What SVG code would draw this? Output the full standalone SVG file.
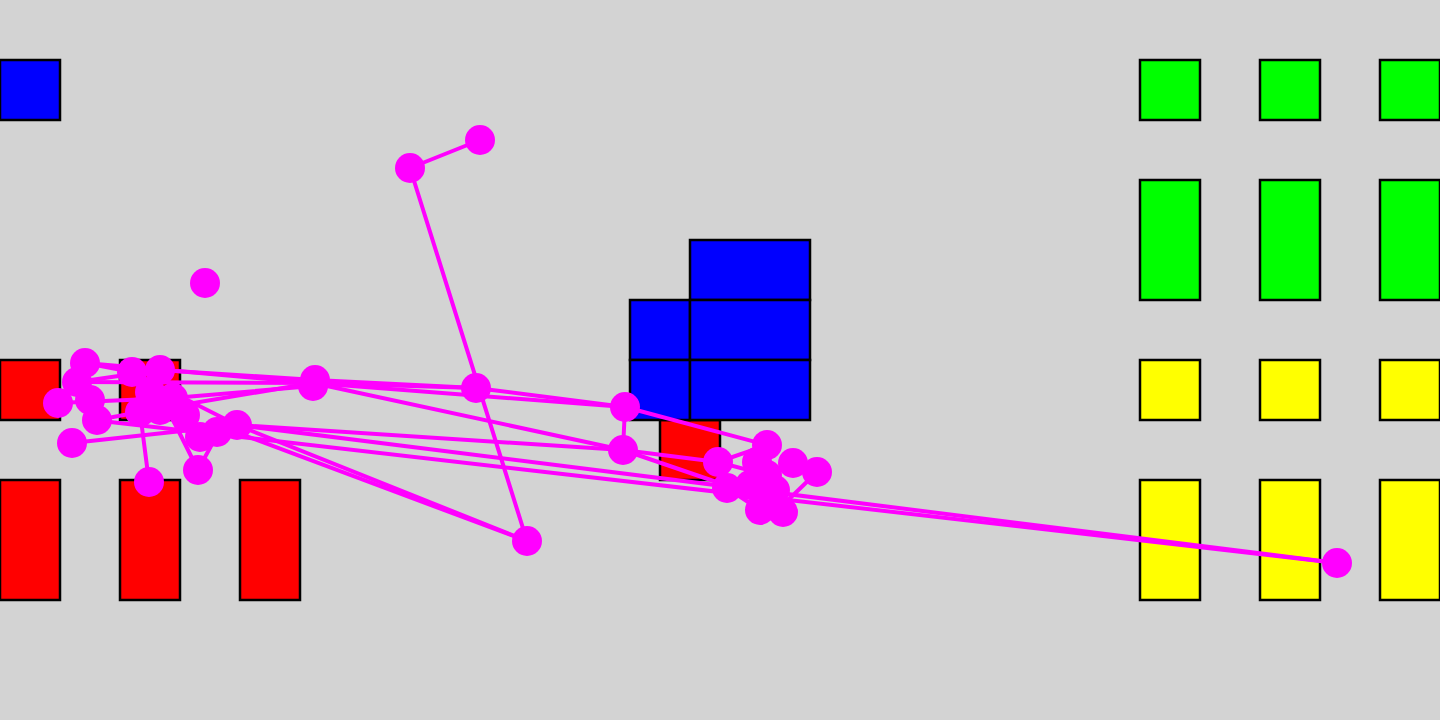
<svg xmlns="http://www.w3.org/2000/svg" width="1440" height="720" viewBox="0 0 1440 720">
<style>
.b{fill:#0000ff;stroke:#000;stroke-width:2.5}
.r{fill:#ff0000;stroke:#000;stroke-width:2.5}
.g{fill:#00ff00;stroke:#000;stroke-width:2.5}
.y{fill:#ffff00;stroke:#000;stroke-width:2.5}
.e line{stroke:#ff00ff;stroke-width:4;stroke-linecap:round}
.n circle{fill:#ff00ff}
</style>
<rect x="0" y="0" width="1440" height="720" fill="#d3d3d3"/>
<g id="blocks">
<rect class="b" x="0" y="60" width="60" height="60"/>
<rect class="r" x="0" y="360" width="60" height="60"/>
<rect class="r" x="120" y="360" width="60" height="60"/>
<rect class="r" x="0" y="480" width="60" height="120"/>
<rect class="r" x="120" y="480" width="60" height="120"/>
<rect class="r" x="240" y="480" width="60" height="120"/>
<rect class="r" x="660" y="420" width="60" height="60"/>
<rect class="b" x="690" y="240" width="120" height="60"/>
<rect class="b" x="630" y="300" width="60" height="60"/>
<rect class="b" x="690" y="300" width="120" height="60"/>
<rect class="b" x="630" y="360" width="60" height="60"/>
<rect class="b" x="690" y="360" width="120" height="60"/>
<rect class="g" x="1140" y="60" width="60" height="60"/>
<rect class="g" x="1260" y="60" width="60" height="60"/>
<rect class="g" x="1380" y="60" width="60" height="60"/>
<rect class="g" x="1140" y="180" width="60" height="120"/>
<rect class="g" x="1260" y="180" width="60" height="120"/>
<rect class="g" x="1380" y="180" width="60" height="120"/>
<rect class="y" x="1140" y="360" width="60" height="60"/>
<rect class="y" x="1260" y="360" width="60" height="60"/>
<rect class="y" x="1380" y="360" width="60" height="60"/>
<rect class="y" x="1140" y="480" width="60" height="120"/>
<rect class="y" x="1260" y="480" width="60" height="120"/>
<rect class="y" x="1380" y="480" width="60" height="120"/>
</g>
<g id="connectors" class="e">
<line x1="480" y1="140" x2="410" y2="168"/>
<line x1="410" y1="168" x2="527" y2="541"/>
<line x1="237" y1="425" x2="527" y2="541"/>
<line x1="230" y1="430" x2="527" y2="541"/>
<line x1="85" y1="363" x2="313" y2="383"/>
<line x1="77" y1="382" x2="313" y2="383"/>
<line x1="160" y1="370" x2="315" y2="380"/>
<line x1="173" y1="398" x2="313" y2="386"/>
<line x1="140" y1="412" x2="313" y2="383"/>
<line x1="313" y1="383" x2="476" y2="388"/>
<line x1="315" y1="380" x2="476" y2="388"/>
<line x1="476" y1="388" x2="625" y2="407"/>
<line x1="313" y1="383" x2="625" y2="407"/>
<line x1="313" y1="383" x2="623" y2="450"/>
<line x1="625" y1="407" x2="623" y2="450"/>
<line x1="625" y1="407" x2="767" y2="445"/>
<line x1="623" y1="450" x2="718" y2="462"/>
<line x1="623" y1="450" x2="740" y2="490"/>
<line x1="237" y1="425" x2="1337" y2="563"/>
<line x1="93" y1="420" x2="1337" y2="563"/>
<line x1="237" y1="425" x2="623" y2="450"/>
<line x1="72" y1="443" x2="237" y2="425"/>
<line x1="85" y1="363" x2="132" y2="372"/>
<line x1="77" y1="382" x2="160" y2="370"/>
<line x1="58" y1="403" x2="173" y2="398"/>
<line x1="97" y1="420" x2="140" y2="412"/>
<line x1="149" y1="482" x2="140" y2="412"/>
<line x1="198" y1="470" x2="173" y2="420"/>
<line x1="198" y1="470" x2="217" y2="435"/>
<line x1="132" y1="372" x2="237" y2="425"/>
<line x1="767" y1="445" x2="718" y2="462"/>
<line x1="718" y1="462" x2="767" y2="475"/>
<line x1="793" y1="463" x2="767" y2="475"/>
<line x1="817" y1="472" x2="783" y2="505"/>
<line x1="727" y1="488" x2="760" y2="510"/>
</g>
<g id="nodes" class="n">
<circle cx="480" cy="140" r="15"/>
<circle cx="410" cy="168" r="15"/>
<circle cx="205" cy="283" r="15"/>
<circle cx="527" cy="541" r="15"/>
<circle cx="476" cy="388" r="15"/>
<circle cx="315" cy="380" r="15"/>
<circle cx="313" cy="386" r="15"/>
<circle cx="625" cy="407" r="15"/>
<circle cx="623" cy="450" r="15"/>
<circle cx="1337" cy="563" r="15"/>
<circle cx="85" cy="363" r="15"/>
<circle cx="77" cy="382" r="15"/>
<circle cx="58" cy="403" r="15"/>
<circle cx="97" cy="420" r="15"/>
<circle cx="90" cy="400" r="15"/>
<circle cx="72" cy="443" r="15"/>
<circle cx="132" cy="372" r="15"/>
<circle cx="160" cy="370" r="15"/>
<circle cx="150" cy="392" r="15"/>
<circle cx="173" cy="398" r="15"/>
<circle cx="140" cy="412" r="15"/>
<circle cx="160" cy="410" r="15"/>
<circle cx="185" cy="415" r="15"/>
<circle cx="237" cy="425" r="15"/>
<circle cx="217" cy="432" r="15"/>
<circle cx="200" cy="437" r="15"/>
<circle cx="198" cy="470" r="15"/>
<circle cx="149" cy="482" r="15"/>
<circle cx="767" cy="445" r="15"/>
<circle cx="718" cy="462" r="15"/>
<circle cx="757" cy="462" r="15"/>
<circle cx="793" cy="463" r="15"/>
<circle cx="817" cy="472" r="15"/>
<circle cx="767" cy="475" r="15"/>
<circle cx="727" cy="488" r="15"/>
<circle cx="750" cy="485" r="15"/>
<circle cx="775" cy="490" r="15"/>
<circle cx="760" cy="510" r="15"/>
<circle cx="783" cy="512" r="15"/>
</g>
</svg>
